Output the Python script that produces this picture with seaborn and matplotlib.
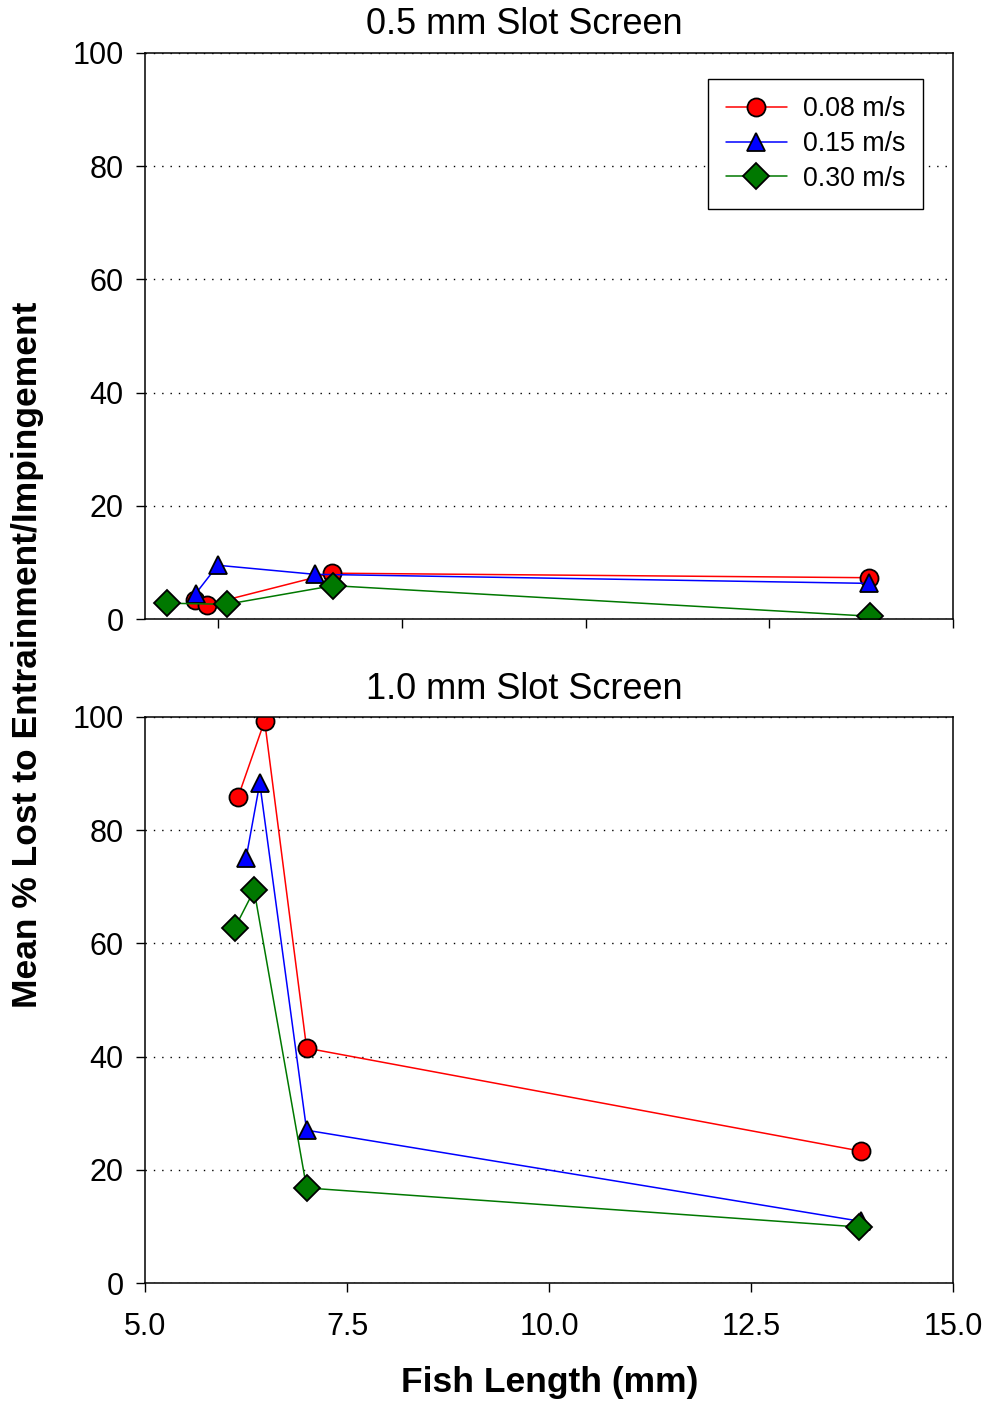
import matplotlib
matplotlib.use('Agg')
import matplotlib.pyplot as plt
import numpy as np
import pandas as pd
import seaborn as sns

# speeds (legend labels)
speeds = ['0.08 m/s', '0.15 m/s', '0.30 m/s']
colors = ['#ff0000', '#0000ff', '#007800']
marks = ['o', '^', 'D']

# 0.5 mm slot screen
top_len = {
    '0.08 m/s': [4.68, 4.84, 6.54, 13.86],
    '0.15 m/s': [4.69, 4.99, 6.31, 13.86],
    '0.30 m/s': [4.30, 5.11, 6.56, 13.87],
}
top_pct = {
    '0.08 m/s': [3.4, 2.5, 8.1, 7.3],
    '0.15 m/s': [4.5, 9.5, 7.9, 6.3],
    '0.30 m/s': [2.8, 2.6, 5.9, 0.5],
}

# 1.0 mm slot screen
bot_len = {
    '0.08 m/s': [6.15, 6.48, 7.00, 13.86],
    '0.15 m/s': [6.25, 6.42, 7.00, 13.86],
    '0.30 m/s': [6.11, 6.35, 7.00, 13.84],
}
bot_pct = {
    '0.08 m/s': [85.8, 99.3, 41.5, 23.3],
    '0.15 m/s': [75.0, 88.3, 27.0, 10.9],
    '0.30 m/s': [62.7, 69.4, 16.8, 9.9],
}


def to_frame(lens, pcts):
    rows = []
    for s in speeds:
        for x, y in zip(lens[s], pcts[s]):
            rows.append({'length': x, 'pct': y, 'speed': s})
    return pd.DataFrame(rows)


sns.set_style('ticks')
plt.rcParams['font.family'] = ['Liberation Sans', 'DejaVu Sans']
plt.rcParams['text.color'] = 'black'
plt.rcParams['axes.labelcolor'] = 'black'
plt.rcParams['xtick.color'] = 'black'
plt.rcParams['ytick.color'] = 'black'

fig = plt.figure(figsize=(9.9, 14.05), dpi=100)
ax1 = fig.add_axes([0.1465, 0.5594, 0.8161, 0.4029])
ax2 = fig.add_axes([0.1465, 0.0868, 0.8161, 0.4029])

pal = dict(zip(speeds, colors))
mk = dict(zip(speeds, marks))

for ax, df in [(ax1, to_frame(top_len, top_pct)), (ax2, to_frame(bot_len, bot_pct))]:
    sns.lineplot(data=df, x='length', y='pct', hue='speed', style='speed',
                 palette=pal, markers=mk, dashes=False, estimator=None,
                 sort=False, ax=ax, linewidth=1.1, markersize=13,
                 markeredgecolor='black', markeredgewidth=1.3, legend=(ax is ax1))
    ax.set_ylim(0, 100)
    ax.set_yticks([0, 20, 40, 60, 80, 100])
    ax.yaxis.grid(True, linestyle=(0, (1, 5)), color='black', linewidth=1.0)
    ax.set_axisbelow(True)
    for sp in ax.spines.values():
        sp.set_linewidth(1.1)
        sp.set_color('black')
    ax.tick_params(direction='out', length=6.5, width=1.0, labelsize=22,
                   color='black', labelcolor='black', pad=9)
    ax.set_xlabel('')
    ax.set_ylabel('')

ax1.set_xlim(4, 15)
ax1.set_xticks([5, 7.5, 10, 12.5, 15])
ax1.set_xticklabels([])
ax1.text(0.470, 1.050, '0.5 mm Slot Screen', transform=ax1.transAxes,
         ha='center', va='center', fontsize=26)

ax2.set_xlim(5, 15)
ax2.set_xticks([5, 7.5, 10, 12.5, 15])
ax2.set_xticklabels(['5.0', '7.5', '10.0', '12.5', '15.0'])
ax2.text(0.470, 1.048, '1.0 mm Slot Screen', transform=ax2.transAxes,
         ha='center', va='center', fontsize=26)
ax2.tick_params(axis='x', pad=14)

leg = ax1.legend(loc='upper right', bbox_to_anchor=(0.963, 0.954),
                 borderaxespad=0, fontsize=19.3, frameon=True, fancybox=False,
                 edgecolor='black', framealpha=1, handlelength=2.3,
                 handletextpad=0.6, labelspacing=0.32, borderpad=0.65)
leg.get_frame().set_linewidth(1.0)

fig.text(0.028, 0.534, 'Mean % Lost to Entrainment/Impingement', rotation=90,
         ha='center', va='center', fontsize=25.5, fontweight='bold')
fig.text(0.555, 0.016, 'Fish Length (mm)', ha='center', va='center',
         fontsize=25.5, fontweight='bold')

fig.savefig('out.png', dpi=100)
